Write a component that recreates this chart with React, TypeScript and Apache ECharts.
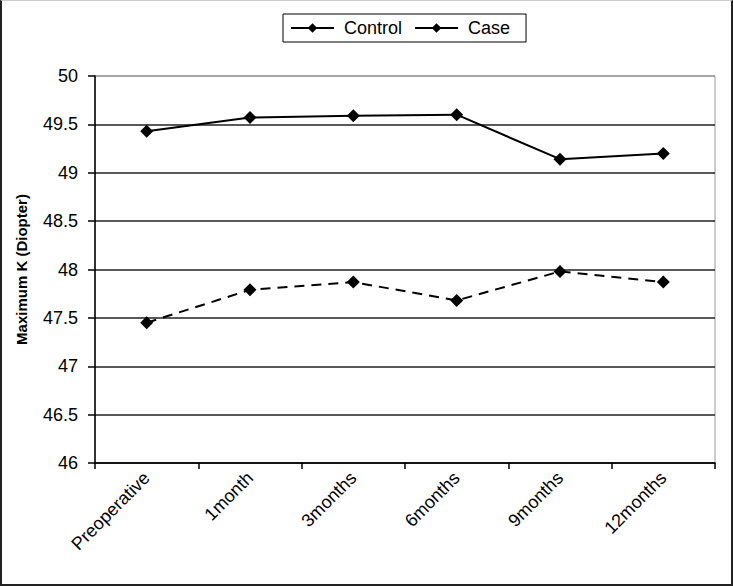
import React, { useEffect, useRef } from "react";
import * as echarts from "echarts";

const categories = ["Preoperative", "1month", "3months", "6months", "9months", "12months"];
const controlValues = [47.45, 47.79, 47.87, 47.68, 47.98, 47.87];
const caseValues = [49.43, 49.57, 49.59, 49.6, 49.14, 49.2];
const yTicks = [46, 46.5, 47, 47.5, 48, 48.5, 49, 49.5, 50];

export default function App() {
  const ref = useRef<HTMLDivElement>(null);
  useEffect(() => {
    document.body.style.margin = "0";
    const chart = echarts.init(ref.current!, null, { renderer: "svg" });
    const font = "'Liberation Sans', Arial, sans-serif";
    chart.setOption({
      animation: false,
      backgroundColor: "#fff",
      textStyle: { fontFamily: font },
      legend: {
        left: 283,
        top: 14,
        orient: "horizontal",
        borderColor: "#000",
        borderWidth: 1,
        padding: [5, 16, 5, 7],
        itemWidth: 43,
        itemHeight: 12,
        itemGap: 12,
        textStyle: { fontSize: 18, color: "#000", fontFamily: font, padding: [0, 0, 0, 5] },
        data: [
          { name: "Control", lineStyle: { type: "solid", width: 2 } },
          { name: "Case", lineStyle: { type: "solid", width: 2 } },
        ],
      },
      grid: {
        left: 95,
        top: 76,
        width: 620,
        height: 387,
        show: true,
        borderColor: "#999",
        borderWidth: 1,
      },
      xAxis: {
        type: "category",
        data: categories,
        boundaryGap: true,
        axisLine: { lineStyle: { color: "#000", width: 1.5 } },
        axisTick: { show: true, length: 6, inside: false, lineStyle: { color: "#000", width: 1.5 } },
        axisLabel: { rotate: 45, fontSize: 18, color: "#000", margin: 12, fontFamily: font, interval: 0 },
        splitLine: { show: false },
      },
      yAxis: {
        type: "value",
        min: 46,
        max: 50,
        interval: 0.5,
        name: "Maximum K (Diopter)",
        nameLocation: "middle",
        nameGap: 66,
        nameTextStyle: { fontSize: 15, fontWeight: "bold", color: "#000", fontFamily: font },
        axisLine: { show: true, lineStyle: { color: "#000", width: 1.5 } },
        axisTick: { show: true, length: 7, lineStyle: { color: "#000", width: 1.5 } },
        axisLabel: {
          fontSize: 18,
          color: "#000",
          margin: 17,
          fontFamily: font,
          formatter: (v: number) => (yTicks.includes(v) ? String(v) : ""),
        },
        splitLine: {
          show: true,
          lineStyle: {
            color: ["#222", "#222", "#222", "#222", "#222", "#222", "#222", "#222", "#999"],
            width: 1.5,
          },
        },
      },
      series: [
        {
          name: "Control",
          type: "line",
          data: controlValues,
          symbol: "diamond",
          symbolSize: 13,
          itemStyle: { color: "#000" },
          lineStyle: { color: "#000", width: 2, type: [10, 7] },
        },
        {
          name: "Case",
          type: "line",
          data: caseValues,
          symbol: "diamond",
          symbolSize: 13,
          itemStyle: { color: "#000" },
          lineStyle: { color: "#000", width: 2, type: "solid" },
        },
      ],
    });
    return () => chart.dispose();
  }, []);
  return (
    <div style={{ width: 733, height: 586, position: "relative" }}>
      <div ref={ref} style={{ position: "absolute", left: 0, top: 0, width: 733, height: 586 }} />
      <div
        style={{
          position: "absolute",
          left: 0,
          top: 0,
          width: 733,
          height: 586,
          boxSizing: "border-box",
          borderLeft: "2px solid #222",
          borderRight: "2px solid #222",
          borderBottom: "2px solid #222",
          borderTop: "1px solid #ccc",
          pointerEvents: "none",
        }}
      />
    </div>
  );
}
